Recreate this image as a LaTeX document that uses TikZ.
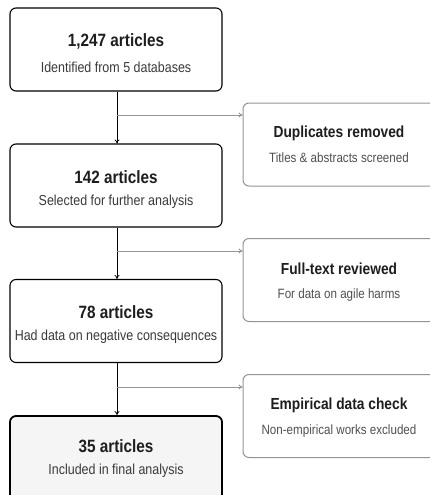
\documentclass[tikz,border=0pt]{standalone}
\usepackage{fontspec}
\setmainfont{Liberation Sans}[FakeStretch=0.86]
\usetikzlibrary{arrows.meta}
\definecolor{sidegray}{HTML}{949494}
\definecolor{titlec}{HTML}{1E1E1E}
\definecolor{subc}{HTML}{3A3A3A}
\definecolor{sidesub}{HTML}{505050}
\tikzset{
  mainbox/.style={draw=black, line width=1.1pt, rounded corners=6pt, fill=white, minimum width=212pt, inner sep=0pt},
  finalbox/.style={mainbox, line width=1.8pt, fill={rgb,255:red,245;green,245;blue,245}},
  sidebox/.style={draw=sidegray, line width=1pt, rounded corners=6pt, fill=white, minimum width=193pt, inner sep=0pt},
  ttl/.style={font=\bfseries\fontsize{17.8}{19}\selectfont, text=titlec, inner sep=0pt},
  sub/.style={font=\fontsize{14.5}{16}\selectfont, text=subc, inner sep=0pt},
  sttl/.style={font=\bfseries\fontsize{16}{18}\selectfont, text=titlec, inner sep=0pt},
  ssub/.style={font=\fontsize{13.5}{15}\selectfont, text=sidesub, inner sep=0pt},
  mainarrow/.style={draw=black, line width=0.8pt, -{To[length=4pt,width=5pt]}},
  sidearrow/.style={draw=sidegray, line width=0.9pt, -{To[length=4pt,width=5pt]}},
}
\begin{document}
\begin{tikzpicture}[x=1pt,y=-1pt]
\useasboundingbox (0,0) rectangle (430,495);
% main boxes
\node[mainbox, minimum height=83pt] (b1) at (116,49.5) {};
\node[mainbox, minimum height=83pt] (b2) at (116,185.5) {};
\node[mainbox, minimum height=83pt] (b3) at (116,321) {};
\node[finalbox, minimum height=86pt] (b4) at (116,459) {};
% side boxes
\node[sidebox, minimum height=83pt] (s1) at (339.5,144.5) {};
\node[sidebox, minimum height=83pt] (s2) at (339.5,280) {};
\node[sidebox, minimum height=83pt] (s3) at (339.5,416) {};
% texts
\node[ttl] (t1) at (116,41) {1,247 articles};
\node[sub] (u1) at (116,67) {Identified from 5 databases};
\node[ttl] (t2) at (116,177) {142 articles};
\node[sub] (u2) at (116,202) {Selected for further analysis};
\node[ttl] (t3) at (116,312) {78 articles};
\node[sub] (u3) at (116,337) {Had data on negative consequences};
\node[ttl] (t4) at (116,446) {35 articles};
\node[sub] (u4) at (116,471) {Included in final analysis};
\node[sttl] (st1) at (339,133) {Duplicates removed};
\node[ssub] (su1) at (339,158) {Titles \& abstracts screened};
\node[sttl] (st2) at (339,269) {Full-text reviewed};
\node[ssub] (su2) at (339,295) {For data on agile harms};
\node[sttl] (st3) at (339,405) {Empirical data check};
\node[ssub] (su3) at (339,431) {Non-empirical works excluded};
% branch points
\coordinate (j1) at (117,115);
\coordinate (j2) at (117,251);
\coordinate (j3) at (117,387);
% connectors
\draw[mainarrow] (b1.south -| j1) -- (b2.north -| j1);
\draw[mainarrow] (b2.south -| j2) -- (b3.north -| j2);
\draw[mainarrow] (b3.south -| j3) -- (b4.north -| j3);
\draw[sidearrow] (j1) -- (j1 -| s1.west);
\draw[sidearrow] (j2) -- (j2 -| s2.west);
\draw[sidearrow] (j3) -- (j3 -| s3.west);
\end{tikzpicture}
\end{document}
